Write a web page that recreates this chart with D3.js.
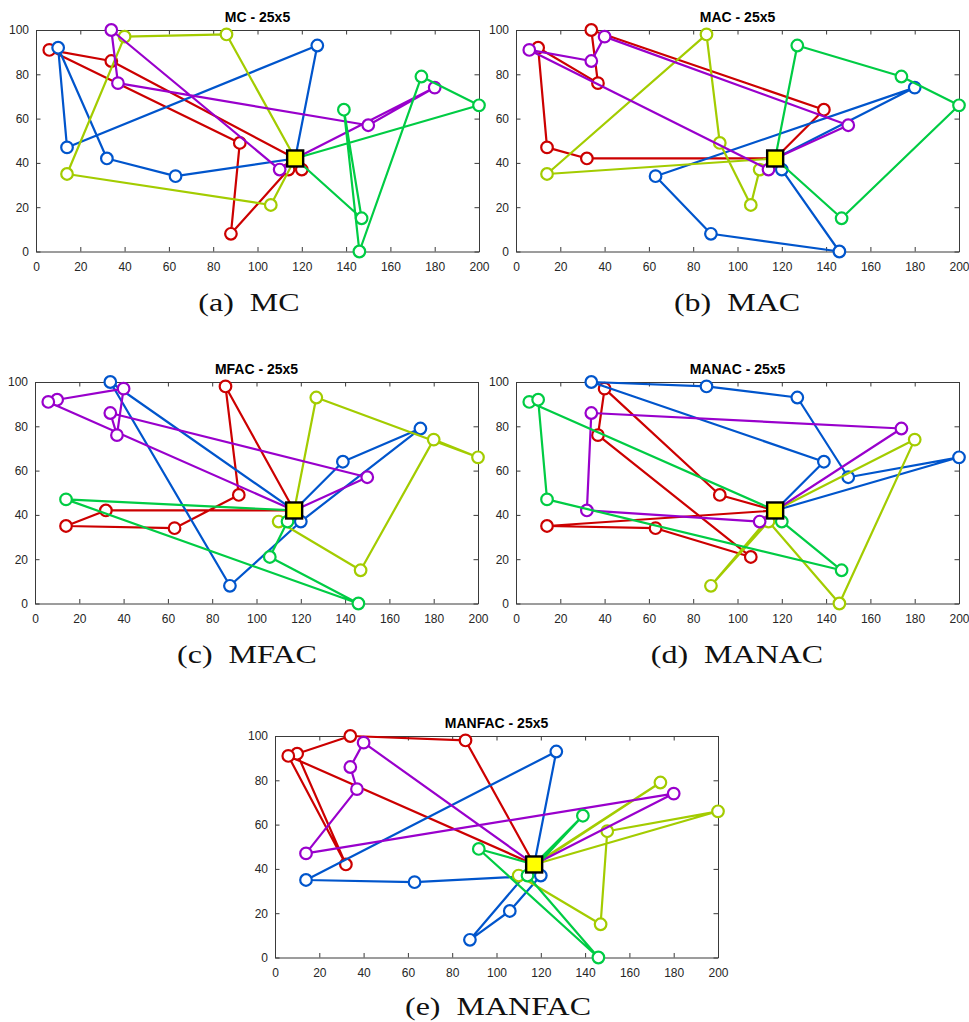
<!DOCTYPE html>
<html>
<head>
<meta charset="utf-8">
<script src="https://cdn.jsdelivr.net/npm/d3@7"></script>
<style>
  body { margin: 0; background: #fff; }
  .tick text { font-family: "Liberation Sans", Arial, sans-serif; font-size: 12px; fill: #262626; }
  .title { font-family: "Liberation Sans", Arial, sans-serif; font-size: 14px; font-weight: bold; fill: #000; }
  .caption { font-family: "Liberation Serif", "DejaVu Serif", serif; font-size: 25px; fill: #111; }
</style>
</head>
<body>
<div id="chart"></div>
<script>
// customer locations (25 customers) and the depot
var custX = [6, 10, 14, 14, 32, 34, 34, 37, 40, 63, 86, 88, 92, 106, 110, 114, 120, 127, 139, 146, 147, 150, 174, 180, 200];
var custY = [91, 92, 47, 35, 42, 100, 86, 76, 97, 34, 98, 8, 49, 21, 37, 37, 37, 93, 64, 0, 15, 57, 79, 74, 66];
var depot = [117, 42];

// vehicle colours, same order as the routes below
var routeColors = ["#cc0000", "#0055cc", "#a3cc00", "#9900cc", "#00cc44"];

// routes (customer indexes, depot -> ... -> depot), order: red, blue, yellow, purple, green
var routesMC     = [[6, 0, 12, 11, 15, 16], [17, 2, 1, 4, 9], [10, 8, 3, 13], [14, 5, 7, 21, 23], [24, 22, 19, 18, 20]];
var routesMAC    = [[4, 2, 1, 7, 5, 18], [16, 19, 11, 9, 23], [14, 13, 12, 10, 3], [21, 8, 6, 0, 15], [17, 22, 24, 20]];
var routesMFAC   = [[10, 12, 9, 3, 4], [5, 11, 16, 22, 18], [17, 24, 23, 20, 14], [21, 6, 7, 8, 1, 0], [2, 19, 13, 15]];
var routesMANAC  = [[12, 8, 7, 13, 9, 3], [18, 5, 10, 17, 21, 24], [11, 15, 19, 23], [22, 6, 4, 14], [0, 1, 2, 20, 16]];
var routesMANFAC = [[10, 5, 1, 4, 0], [17, 3, 9, 16, 13, 11], [24, 21, 20, 14, 22], [8, 6, 7, 2, 23], [12, 19, 15, 18]];

var titles   = ["MC - 25x5", "MAC - 25x5", "MFAC - 25x5", "MANAC - 25x5", "MANFAC - 25x5"];
var captions = ["(a)", "(b)", "(c)", "(d)", "(e)"];
var capNames = ["MC", "MAC", "MFAC", "MANAC", "MANFAC"];
var xTicks = [0, 20, 40, 60, 80, 100, 120, 140, 160, 180, 200];
var yTicks = [0, 20, 40, 60, 80, 100];

var allRoutes = [routesMC, routesMAC, routesMFAC, routesMANAC, routesMANFAC];

// panel placement: axes box + caption centre
var panels = [
  {left: 36,  top: 30,  capX: 249, capY: 311},
  {left: 516, top: 30,  capX: 737, capY: 311},
  {left: 35,  top: 382, capX: 247, capY: 663},
  {left: 516, top: 382, capX: 737, capY: 663},
  {left: 275, top: 736, capX: 498, capY: 1015}
];
var W = 443, H = 221.5;

var svg = d3.select("#chart").append("svg")
    .attr("width", 969)
    .attr("height", 1022);

var x = d3.scaleLinear().domain([0, 200]).range([0, W]);
var y = d3.scaleLinear().domain([0, 100]).range([H, 0]);

var line = d3.line()
    .x(function(d) { return x(d[0]); })
    .y(function(d) { return y(d[1]); });

panels.forEach(function(p, k) {
    var g = svg.append("g").attr("transform", "translate(" + p.left + "," + p.top + ")");

    // axes, matlab style: ticks inside, full box
    var bottom = g.append("g").attr("transform", "translate(0," + H + ")")
        .call(d3.axisBottom(x).tickValues(xTicks).tickSize(-4.5).tickSizeOuter(0).tickPadding(10.5));
    var left = g.append("g")
        .call(d3.axisLeft(y).tickValues(yTicks).tickSize(-4.5).tickSizeOuter(0).tickPadding(7));
    var top = g.append("g")
        .call(d3.axisTop(x).tickValues(xTicks).tickSize(-4.5).tickSizeOuter(0).tickFormat(""));
    var right = g.append("g").attr("transform", "translate(" + W + ",0)")
        .call(d3.axisRight(y).tickValues(yTicks).tickSize(-4.5).tickSizeOuter(0).tickFormat(""));
    [bottom, left, top, right].forEach(function(a) {
        a.select(".domain").attr("stroke", "#3a3a3a").attr("stroke-width", 1);
        a.selectAll(".tick line").attr("stroke", "#3a3a3a").attr("stroke-width", 1);
    });

    // routes
    allRoutes[k].forEach(function(route, r) {
        var pts = [depot].concat(route.map(function(i) { return [custX[i], custY[i]]; }), [depot]);
        g.append("path")
            .datum(pts)
            .attr("d", line)
            .attr("fill", "none")
            .attr("stroke", routeColors[r])
            .attr("stroke-width", 2.2)
            .attr("stroke-linejoin", "round");
        g.selectAll(null)
            .data(route)
            .enter().append("circle")
            .attr("cx", function(i) { return x(custX[i]); })
            .attr("cy", function(i) { return y(custY[i]); })
            .attr("r", 5.8)
            .attr("fill", "#fff")
            .attr("stroke", routeColors[r])
            .attr("stroke-width", 2.2);
    });

    // depot
    g.append("rect")
        .attr("x", x(depot[0]) - 8)
        .attr("y", y(depot[1]) - 8)
        .attr("width", 16)
        .attr("height", 16)
        .attr("fill", "#ffff00")
        .attr("stroke", "#000")
        .attr("stroke-width", 2.4);

    g.append("text")
        .attr("class", "title")
        .attr("x", W / 2)
        .attr("y", -8)
        .attr("text-anchor", "middle")
        .text(titles[k]);

    // sub-figure caption
    svg.append("text")
        .attr("class", "caption")
        .attr("text-anchor", "middle")
        .attr("transform", "translate(" + p.capX + "," + p.capY + ") scale(1.28,1)")
        .text(captions[k] + "\u2002" + capNames[k]);
});
</script>
</body>
</html>
